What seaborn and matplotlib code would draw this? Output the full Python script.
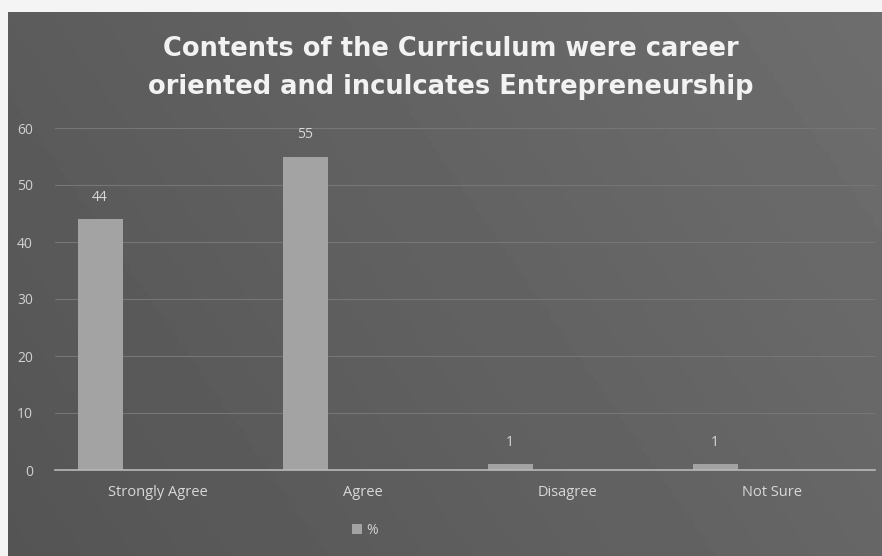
import matplotlib.pyplot as plt
import seaborn as sns
import numpy as np
import pandas as pd

categories = ["Strongly Agree", "Agree", "Disagree", "Not Sure"]
percent = [44, 55, 1, 1]
series_name = "%"
title = "Contents of the Curriculum were career\noriented and inculcates Entrepreneurship"

df = pd.DataFrame({"category": categories, "value": percent})

sns.set_theme(style="dark")
plt.rcParams['font.family'] = ['Open Sans', 'DejaVu Sans']

W, H = 882, 556
fig = plt.figure(figsize=(W / 100, H / 100), dpi=100, facecolor="#f4f4f4")

# dark scanned backdrop with a soft gradient
bg = fig.add_axes([8 / W, 0, 1 - 8 / W, 1 - 12 / H])
gx = np.linspace(0, 1, 200)
gy = np.linspace(0, 1, 120)
grad = 0.33 + 0.07 * gx[None, :] + 0.03 * gy[::-1, None]
bg.imshow(grad, cmap="gray", vmin=0, vmax=1, aspect="auto", extent=[0, 1, 0, 1])
bg.axis("off")

ax = fig.add_axes([55 / W, (H - 470) / H, 820 / W, (470 - 128) / H])
ax.patch.set_alpha(0)
sns.barplot(data=df, x="category", y="value", color="#a3a3a3", width=0.22,
            saturation=1, linewidth=0, ax=ax, label=series_name)

# Excel clustered layout: bar sits left of the category centre
for p in ax.patches:
    p.set_x(p.get_x() - 0.28)
    ax.text(p.get_x() + p.get_width() / 2, p.get_height() + 2.5,
            f"{p.get_height():.0f}", ha="center", va="bottom",
            color="#d8d8d8", fontsize=10)

ax.set_ylim(0, 60)
ax.set_xlim(-0.5, 3.5)
ax.set_yticks(range(0, 61, 10))
ax.yaxis.grid(True, color="#767676", linewidth=0.8)
ax.xaxis.grid(False)
for s in ["top", "right", "left"]:
    ax.spines[s].set_visible(False)
ax.spines["bottom"].set_color("#b8b8b8")
ax.spines["bottom"].set_linewidth(1.2)
ax.tick_params(axis="y", colors="#d0d0d0", labelsize=10, pad=16, length=0)
ax.tick_params(axis="x", colors="#d8d8d8", labelsize=10.5, pad=11, length=0)
ax.set_xlabel("")
ax.set_ylabel("")

leg = ax.legend(loc="center", bbox_to_anchor=(365 / W, 1 - 530 / H),
                bbox_transform=fig.transFigure, frameon=False,
                handlelength=0.7, handleheight=0.7, handletextpad=0.3,
                fontsize=10)
for t in leg.get_texts():
    t.set_color("#d0d0d0")

fig.text(451 / W, 1 - 68 / H, title, ha="center", va="center",
         fontsize=18.5, fontweight="bold", color="#f2f2f2",
         family=["DejaVu Sans"], linespacing=1.58)

fig.savefig("out.png", dpi=100, facecolor=fig.get_facecolor())
